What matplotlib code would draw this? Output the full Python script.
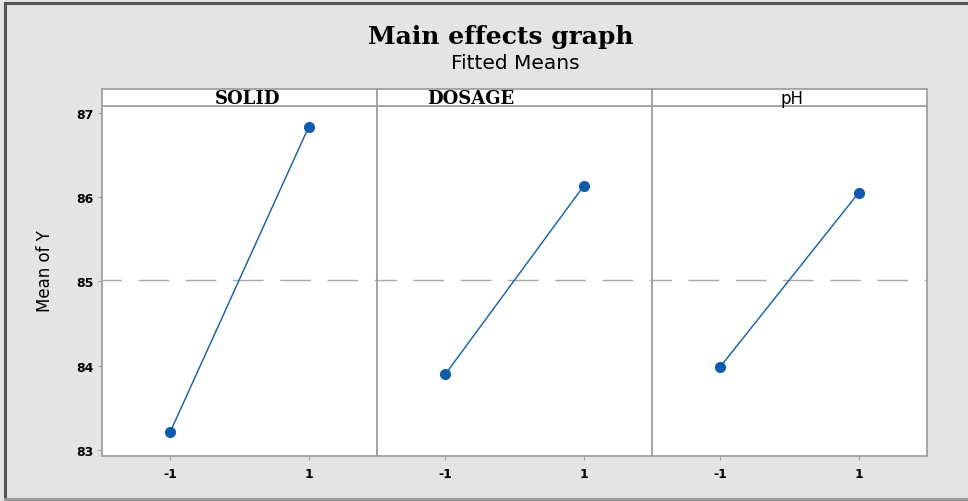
import matplotlib.pyplot as plt
from matplotlib.lines import Line2D

# factors and fitted means at low / high level
factors = ["SOLID", "DOSAGE", "pH"]
levels = [-1, 1]
means = {
    "SOLID": [83.22, 86.83],
    "DOSAGE": [83.90, 86.13],
    "pH": [83.99, 86.05],
}
grand_mean = 85.02
yticks = [83, 84, 85, 86, 87]

bg = "#e4e4e4"
edge = "#a0a0a0"
blue = "#0f5bab"

fig = plt.figure(figsize=(9.68, 5.02), dpi=100, facecolor=bg)

# outer frame: dark top/left, light bottom
x0, y0, y1 = 5 / 968, 2 / 502, 498 / 502
fig.add_artist(Line2D([x0, 1], [y1, y1], transform=fig.transFigure, color="#555555", lw=2.2))
fig.add_artist(Line2D([x0, x0], [y0, y1], transform=fig.transFigure, color="#555555", lw=2.2))
fig.add_artist(Line2D([x0, 1], [y0, y0], transform=fig.transFigure, color="#9a9a9a", lw=2.2))

fig.text(0.517, 0.926, "Main effects graph", ha="center", va="center",
         fontsize=18, fontweight="bold", family="DejaVu Serif")
fig.text(0.532, 0.874, "Fitted Means", ha="center", va="center",
         fontsize=14.5, family="DejaVu Sans")

left = 102 / 968
width = (927 - 102) / 3 / 968
bottom = 1 - 457 / 502
height = (457 - 107) / 502
strip_h = 17 / 502

strip_fonts = {
    "SOLID": dict(family="DejaVu Serif", fontweight="bold", fontsize=13, dx=0.03),
    "DOSAGE": dict(family="DejaVu Serif", fontweight="bold", fontsize=13, dx=-0.16),
    "pH": dict(family="DejaVu Sans", fontweight="normal", fontsize=12, dx=0.01),
}

for i, f in enumerate(factors):
    ax = fig.add_axes([left + i * width, bottom, width, height])
    ax.set_facecolor("white")
    ax.axhline(grand_mean, color="#a8a8a8", lw=1.0, ls=(8, (22, 12)), zorder=1)
    ax.plot(levels, means[f], color=blue, lw=1.0, marker="o", ms=7, zorder=3)
    ax.set_xlim(-1.99, 1.99)
    ax.set_ylim(82.93, 87.08)
    ax.set_xticks(levels)
    ax.set_xticklabels(["-1", "1"], fontweight="bold", fontsize=9)
    ax.set_yticks(yticks)
    if i == 0:
        ax.set_yticklabels([str(v) for v in yticks], fontweight="bold", fontsize=9)
        ax.set_ylabel("Mean of Y", fontsize=12,
                      family=["Liberation Sans Narrow", "DejaVu Sans"])
        ax.yaxis.set_label_coords(-0.175, 0.53)
        ax.tick_params(axis="y", length=3, color=edge, pad=3)
    else:
        ax.tick_params(axis="y", length=0, labelleft=False)
    ax.tick_params(axis="x", length=3, color=edge, pad=5)
    for s in ax.spines.values():
        s.set_color(edge)
        s.set_linewidth(1.3)

    sax = fig.add_axes([left + i * width, bottom + height, width, strip_h])
    sax.set_facecolor("white")
    sax.set_xticks([])
    sax.set_yticks([])
    for s in sax.spines.values():
        s.set_color(edge)
        s.set_linewidth(1.3)
    st = strip_fonts[f]
    sax.text(0.5 + st["dx"], 0.45, f, ha="center", va="center", transform=sax.transAxes,
             family=st["family"], fontweight=st["fontweight"], fontsize=st["fontsize"])

fig.savefig("out.png", dpi=100, facecolor=bg)
